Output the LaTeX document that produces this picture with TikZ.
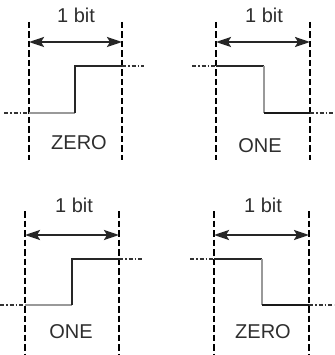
\documentclass[tikz,border=0pt]{standalone}
\usepackage{fontspec}
\setmainfont{Liberation Sans}
\usetikzlibrary{arrows.meta}
\definecolor{txt}{HTML}{2E2E2E}
\tikzset{
  vdash/.style={line width=2.5pt, dash pattern=on 6.5pt off 3pt, black},
  dimarrow/.style={{Stealth[length=15pt,width=10pt,inset=3pt]}-{Stealth[length=15pt,width=10pt,inset=3pt]}, line width=2.2pt, black!85},
  sighi/.style={line width=1.4pt, black!85},
  siglo/.style={line width=1.4pt, black!40},
  sigthick/.style={line width=2pt, black!90},
  ext/.style={line width=1.4pt, black!80, dash pattern=on 4pt off 2pt on 1.5pt off 2pt},
  lbl/.style={font=\fontsize{20}{22}\selectfont, text=txt, inner sep=0pt}
}
\begin{document}
\begin{tikzpicture}[x=1pt,y=-1pt]
\useasboundingbox (0,0) rectangle (334,355);
% ---------- top-left: ZERO ----------
\coordinate (a1t) at (29,22); \coordinate (a1b) at (29,160);
\coordinate (a2t) at (122,22); \coordinate (a2b) at (122,160);
\draw[vdash] (a1t) -- (a1b);
\draw[vdash] (a2t) -- (a2b);
\coordinate (aL) at (29,42); \coordinate (aR) at (122,42);
\draw[dimarrow] (aL) -- (aR);
\node[lbl] (abit) at (76,15) {1 bit};
\node[lbl] (azero) at (79,143) {ZERO};
\coordinate (ae0) at (4,113); \coordinate (ae1) at (29,113);
\coordinate (as0) at (75,113); \coordinate (as1) at (75,66);
\coordinate (ae2) at (122,66); \coordinate (ae3) at (144,66);
\draw[ext] (ae0) -- (ae1);
\draw[siglo] (ae1) -- (as0);
\draw[sighi] (as0) -- (as1) -- (ae2);
\draw[ext] (ae2) -- (ae3);
% ---------- top-right: ONE ----------
\coordinate (b1t) at (216,22); \coordinate (b1b) at (216,160);
\coordinate (b2t) at (310,22); \coordinate (b2b) at (310,160);
\draw[vdash] (b1t) -- (b1b);
\draw[vdash] (b2t) -- (b2b);
\coordinate (bL) at (216,42); \coordinate (bR) at (310,42);
\draw[dimarrow] (bL) -- (bR);
\node[lbl] (bbit) at (264,15) {1 bit};
\node[lbl] (bone) at (260,146) {ONE};
\coordinate (be0) at (192,66); \coordinate (be1) at (216,66);
\coordinate (bs0) at (264,66); \coordinate (bs1) at (264,113);
\coordinate (be2) at (310,113); \coordinate (be3) at (334,113);
\draw[ext] (be0) -- (be1);
\draw[sighi] (be1) -- (bs0);
\draw[siglo] (bs0) -- (bs1);
\draw[sigthick] (bs1) -- (be2);
\draw[ext] (be2) -- (be3);
% ---------- bottom-left: ONE ----------
\coordinate (c1t) at (25,211); \coordinate (c1b) at (25,355);
\coordinate (c2t) at (119,211); \coordinate (c2b) at (119,355);
\draw[vdash] (c1t) -- (c1b);
\draw[vdash] (c2t) -- (c2b);
\coordinate (cL) at (25,235); \coordinate (cR) at (119,235);
\draw[dimarrow] (cL) -- (cR);
\node[lbl] (cbit) at (74,205) {1 bit};
\node[lbl] (cone) at (71,332) {ONE};
\coordinate (ce0) at (0,305); \coordinate (ce1) at (25,305);
\coordinate (cs0) at (72,305); \coordinate (cs1) at (72,259);
\coordinate (ce2) at (119,259); \coordinate (ce3) at (142,259);
\draw[ext] (ce0) -- (ce1);
\draw[siglo] (ce1) -- (cs0);
\draw[sighi] (cs0) -- (cs1) -- (ce2);
\draw[ext] (ce2) -- (ce3);
% ---------- bottom-right: ZERO ----------
\coordinate (d1t) at (214,211); \coordinate (d1b) at (214,355);
\coordinate (d2t) at (309,211); \coordinate (d2b) at (309,355);
\draw[vdash] (d1t) -- (d1b);
\draw[vdash] (d2t) -- (d2b);
\coordinate (dL) at (214,235); \coordinate (dR) at (309,235);
\draw[dimarrow] (dL) -- (dR);
\node[lbl] (dbit) at (263,205) {1 bit};
\node[lbl] (dzero) at (263,332) {ZERO};
\coordinate (de0) at (190,259); \coordinate (de1) at (214,259);
\coordinate (ds0) at (262,259); \coordinate (ds1) at (262,305);
\coordinate (de2) at (309,305); \coordinate (de3) at (334,305);
\draw[ext] (de0) -- (de1);
\draw[sighi] (de1) -- (ds0);
\draw[siglo] (ds0) -- (ds1);
\draw[sigthick] (ds1) -- (de2);
\draw[ext] (de2) -- (de3);
\end{tikzpicture}
\end{document}
